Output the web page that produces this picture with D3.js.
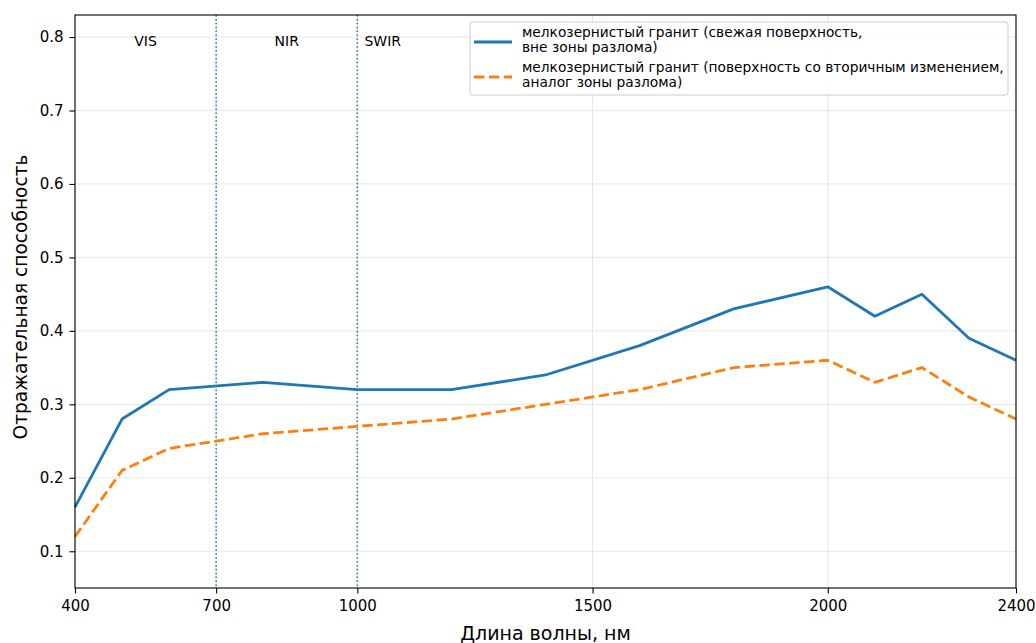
<!DOCTYPE html>
<html>
<head>
<meta charset="utf-8">
<script src="https://cdn.jsdelivr.net/npm/d3@7"></script>
<style>
  html, body { margin: 0; padding: 0; background: #fff; }
  svg { display: block; font-family: "DejaVu Sans", sans-serif; }
</style>
</head>
<body>
<svg id="chart" width="1036" height="643"></svg>
<script>
// Reflectance spectra of fine-grained granite
const wavelengths = [400, 500, 600, 800, 1000, 1200, 1400, 1600, 1800, 2000, 2100, 2200, 2300, 2400];
const freshSurface = [0.16, 0.28, 0.32, 0.33, 0.32, 0.32, 0.34, 0.38, 0.43, 0.46, 0.42, 0.45, 0.39, 0.36];
const alteredSurface = [0.12, 0.21, 0.24, 0.26, 0.27, 0.28, 0.30, 0.32, 0.35, 0.36, 0.33, 0.35, 0.31, 0.28];

const seriesNames = [
  ["мелкозернистый гранит (свежая поверхность,", "вне зоны разлома)"],
  ["мелкозернистый гранит (поверхность со вторичным изменением,", "аналог зоны разлома)"]
];

const xTicks = [400, 700, 1000, 1500, 2000, 2400];
const yTicks = [0.1, 0.2, 0.3, 0.4, 0.5, 0.6, 0.7, 0.8];
const bandBorders = [700, 1000];
const bandLabels = [
  { text: "VIS", x: 550 },
  { text: "NIR", x: 850 },
  { text: "SWIR", x: 1054 }
];

const svg = d3.select("#chart");
const margin = { left: 75, right: 1016, top: 15, bottom: 588 };

const x = d3.scaleLinear().domain([400, 2400]).range([margin.left, margin.right]);
const y = d3.scaleLinear().domain([0.05, 0.83]).range([margin.bottom, margin.top]);

// grid
const grid = svg.append("g");
grid.selectAll("line.gy").data(yTicks).join("line")
  .attr("x1", margin.left).attr("x2", margin.right)
  .attr("y1", d => y(d)).attr("y2", d => y(d))
  .attr("stroke", "#b0b0b0").attr("stroke-opacity", 0.3).attr("stroke-width", 1);
grid.selectAll("line.gx").data(xTicks).join("line")
  .attr("y1", margin.top).attr("y2", margin.bottom)
  .attr("x1", d => x(d)).attr("x2", d => x(d))
  .attr("stroke", "#b0b0b0").attr("stroke-opacity", 0.3).attr("stroke-width", 1);

// spectral band borders
svg.append("g").selectAll("line").data(bandBorders).join("line")
  .attr("x1", d => x(d)).attr("x2", d => x(d))
  .attr("y1", margin.top).attr("y2", margin.bottom)
  .attr("stroke", "#1f77b4").attr("stroke-width", 1.5)
  .attr("stroke-dasharray", "1.5,2.4");

// band labels
svg.append("g").selectAll("text").data(bandLabels).join("text")
  .attr("x", d => x(d.x)).attr("y", y(0.793))
  .attr("text-anchor", "middle").attr("dominant-baseline", "middle")
  .attr("font-size", 14).attr("fill", "#000")
  .text(d => d.text);

// series
const line = d3.line().x(d => x(d[0])).y(d => y(d[1]));
svg.append("path")
  .datum(wavelengths.map((w, i) => [w, freshSurface[i]]))
  .attr("d", line).attr("fill", "none")
  .attr("stroke", "#1f77b4").attr("stroke-width", 2.8)
  .attr("stroke-linejoin", "round");
svg.append("path")
  .datum(wavelengths.map((w, i) => [w, alteredSurface[i]]))
  .attr("d", line).attr("fill", "none")
  .attr("stroke", "#ff7f0e").attr("stroke-width", 2.8)
  .attr("stroke-dasharray", "10.4,4.5");

// axes
const xAxis = svg.append("g")
  .attr("transform", `translate(0,${margin.bottom})`)
  .call(d3.axisBottom(x).tickValues(xTicks).tickSize(5.5).tickPadding(7).tickFormat(d3.format("d")));
const yAxis = svg.append("g")
  .attr("transform", `translate(${margin.left},0)`)
  .call(d3.axisLeft(y).tickValues(yTicks).tickSize(5.5).tickPadding(6).tickFormat(d3.format(".1f")));
[xAxis, yAxis].forEach(a => {
  a.select(".domain").remove();
  a.selectAll("text").attr("font-size", 15).attr("fill", "#000")
    .attr("font-family", "DejaVu Sans, sans-serif");
  a.selectAll("line").attr("stroke", "#000").attr("stroke-width", 1.1);
});

// frame
svg.append("rect")
  .attr("x", margin.left).attr("y", margin.top)
  .attr("width", margin.right - margin.left).attr("height", margin.bottom - margin.top)
  .attr("fill", "none").attr("stroke", "#000").attr("stroke-width", 1.1);

// axis titles
svg.append("text")
  .attr("x", (margin.left + margin.right) / 2).attr("y", 640)
  .attr("text-anchor", "middle").attr("font-size", 19).attr("fill", "#000")
  .text("Длина волны, нм");
svg.append("text")
  .attr("transform", `translate(26.5,297) rotate(-90)`)
  .attr("text-anchor", "middle").attr("font-size", 18.6).attr("fill", "#000")
  .text("Отражательная способность");

// legend
const lg = svg.append("g").attr("transform", "translate(470,22)");
lg.append("rect").attr("width", 538).attr("height", 73).attr("rx", 2.5)
  .attr("fill", "#fff").attr("fill-opacity", 0.8)
  .attr("stroke", "#ccc").attr("stroke-width", 1);
const styles = [
  { color: "#1f77b4", dash: null },
  { color: "#ff7f0e", dash: "10.4,4.5" }
];
seriesNames.forEach((lines, i) => {
  const y0 = 11 + i * 35;
  lg.append("line")
    .attr("x1", 4).attr("x2", 42).attr("y1", y0 + 9).attr("y2", y0 + 9)
    .attr("stroke", styles[i].color).attr("stroke-width", 2.8)
    .attr("stroke-dasharray", styles[i].dash);
  lines.forEach((t, j) => {
    lg.append("text")
      .attr("x", 52).attr("y", y0 + j * 15)
      .attr("dominant-baseline", "middle")
      .attr("font-size", 13.75).attr("fill", "#000")
      .text(t);
  });
});
</script>
</body>
</html>
